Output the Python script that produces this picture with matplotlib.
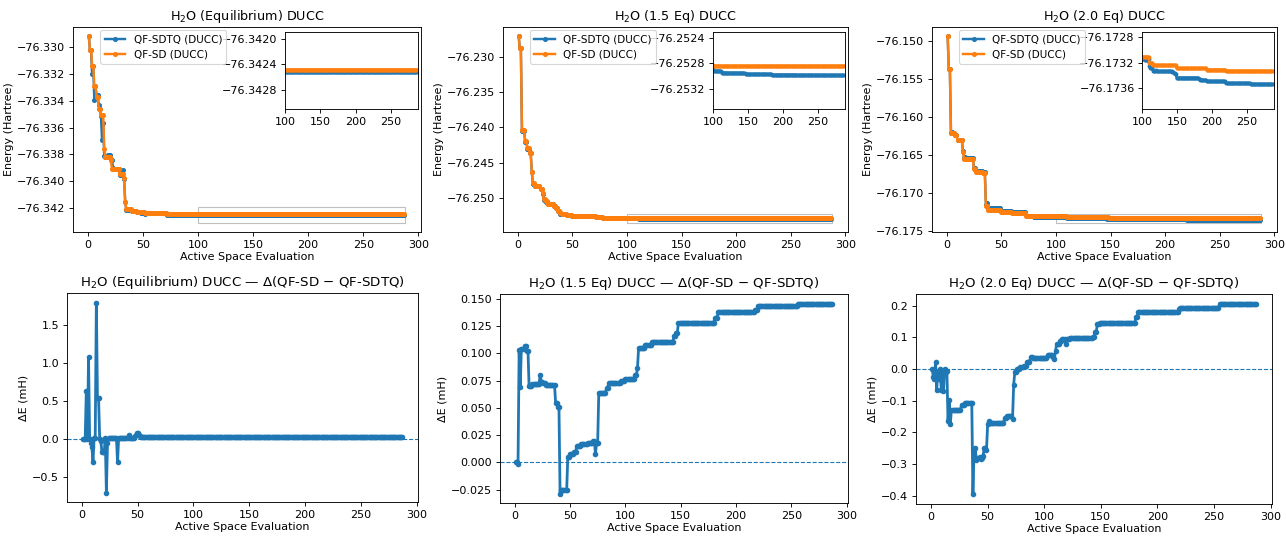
import numpy as np
import matplotlib
matplotlib.use('Agg')  # Use non-GUI backend
import matplotlib.pyplot as plt
from matplotlib.patches import Rectangle
from matplotlib.ticker import MultipleLocator

# Active space evaluation index
x = np.arange(1, 288)

# QF-SD (DUCC) energies, read as step levels: (start index, Hartree)
eq_sd_x = [1, 2, 4, 6, 8, 10, 12, 15, 16, 21, 22, 29, 33, 34, 35, 40, 45, 52, 72]
eq_sd_e = [-76.3292, -76.3302, -76.3314, -76.3329, -76.3337, -76.3346, -76.3351,
           -76.3376, -76.3382, -76.3384, -76.3391, -76.3395, -76.3398, -76.34152,
           -76.3421, -76.3422, -76.3423, -76.34238, -76.34248]

p15_sd_x = [1, 2, 4, 7, 9, 11, 13, 14, 16, 21, 23, 24, 26, 28, 33, 35, 37, 39, 41,
            45, 50, 60, 72, 78, 100]
p15_sd_e = [-76.2271, -76.2288, -76.2404, -76.2420, -76.2429, -76.2436, -76.2463,
            -76.2479, -76.2483, -76.2487, -76.2493, -76.2502, -76.2505, -76.2508,
            -76.2511, -76.2514, -76.2518, -76.2522, -76.2523, -76.2524, -76.25255,
            -76.2526, -76.2527, -76.25282, -76.25284]

p20_sd_x = [1, 2, 4, 8, 10, 15, 16, 25, 27, 33, 36, 38, 50, 60, 73, 76, 80, 110,
            115, 149, 192, 220]
p20_sd_e = [-76.1494, -76.1537, -76.1621, -76.1624, -76.1631, -76.1646, -76.1655,
            -76.1669, -76.1672, -76.1674, -76.1717, -76.1723, -76.1725, -76.1727,
            -76.1730, -76.17305, -76.17311, -76.1732, -76.17324, -76.17329,
            -76.17331, -76.17333]

# Delta E = QF-SD - QF-SDTQ in mH: (start index, value)
eq_d_x = [1, 4, 5, 6, 7, 8, 9, 10, 11, 13, 14, 16, 17, 18, 21, 22, 23, 24, 32, 33,
          42, 43, 48, 49, 51, 52, 53]
eq_d_v = [0.0, 0.64, 0.0, 1.08, 0.0, -0.05, -0.10, -0.30, 0.02, 1.80, 0.54, 0.0,
          -0.02, -0.17, 0.02, -0.70, -0.05, 0.02, -0.30, 0.02, 0.06, 0.02, 0.05,
          0.085, 0.06, 0.045, 0.03]

p15_d_x = [1, 3, 4, 5, 6, 9, 11, 13, 16, 23, 24, 26, 28, 37, 39, 41, 42, 48, 50, 54,
           56, 60, 66, 71, 73, 74, 76, 83, 85, 96, 100, 109, 111, 112, 118, 124, 144,
           146, 148, 181, 184, 217, 220, 256, 265]
p15_d_v = [0.0, -0.0015, 0.103, 0.069, 0.104, 0.107, 0.102, 0.0697, 0.072, 0.080,
           0.074, 0.073, 0.071, 0.054, 0.051, -0.0286, -0.025, 0.005, 0.008, 0.009,
           0.0145, 0.0166, 0.018, 0.0197, 0.0077, 0.018, 0.064, 0.068, 0.0728, 0.075,
           0.076, 0.080, 0.0866, 0.105, 0.108, 0.110, 0.116, 0.119, 0.1275, 0.1327,
           0.138, 0.140, 0.1434, 0.1456, 0.145]

p20_d_x = [1, 2, 3, 4, 5, 6, 7, 8, 9, 10, 11, 12, 13, 14, 15, 16, 17, 18, 27, 30, 37,
           38, 39, 40, 41, 43, 44, 45, 46, 47, 48, 49, 50, 51, 52, 65, 67, 72, 73, 74,
           76, 79, 82, 85, 88, 90, 103, 108, 109, 110, 111, 114, 116, 119, 120, 123,
           143, 145, 147, 149, 181, 183, 219, 220, 255, 258]
p20_d_v = [0.0, -0.024, -0.03, 0.021, -0.066, -0.008, -0.03, 0.0, -0.066, -0.003,
           -0.07, 0.0, -0.008, -0.005, -0.165, -0.097, -0.175, -0.128, -0.1125, -0.108,
           -0.396, -0.256, -0.248, -0.2875, -0.28, -0.279, -0.284, -0.28, -0.274,
           -0.248, -0.25, -0.256, -0.175, -0.165, -0.17, -0.154, -0.149, -0.159, -0.05,
           -0.0104, 0.0, 0.007, 0.01, 0.023, 0.0385, 0.035, 0.044, 0.038, 0.033, 0.056,
           0.08, 0.0875, 0.096, 0.08, 0.096, 0.098, 0.10, 0.117, 0.143, 0.146, 0.164,
           0.179, 0.19, 0.192, 0.207, 0.205]

titles = ["H$_2$O (Equilibrium) DUCC", "H$_2$O (1.5 Eq) DUCC", "H$_2$O (2.0 Eq) DUCC"]


def steps(bx, bv):
    idx = np.searchsorted(bx, x, side='right') - 1
    return np.asarray(bv, dtype=float)[idx]


systems = []
for sx, se, dx, dv in [(eq_sd_x, eq_sd_e, eq_d_x, eq_d_v),
                       (p15_sd_x, p15_sd_e, p15_d_x, p15_d_v),
                       (p20_sd_x, p20_sd_e, p20_d_x, p20_d_v)]:
    e_sd = steps(sx, se)
    d = steps(dx, dv)
    e_sdtq = e_sd - d / 1000.0
    systems.append((e_sdtq, e_sd, d))

W, H = 1286, 537
fig = plt.figure(figsize=(W / 80, H / 80), dpi=80)


def frame(x0, x1, ytop, ybot):
    return [x0 / W, (H - ybot) / H, (x1 - x0) / W, (ybot - ytop) / H]


top_boxes = [frame(73, 421, 27, 232), frame(503, 848, 27, 232), frame(932, 1277, 27, 232)]
bot_boxes = [frame(67, 418, 293, 502), frame(500, 848, 294, 503), frame(916, 1272, 294, 504)]

for i, (e_sdtq, e_sd, d) in enumerate(systems):
    # Energy panel
    ax = fig.add_axes(top_boxes[i])
    ax.plot(x, e_sdtq, 'o-', color='C0', lw=2.2, ms=3.5, label='QF-SDTQ (DUCC)')
    ax.plot(x, e_sd, 'o-', color='C1', lw=2.2, ms=3.5, label='QF-SD (DUCC)')
    ax.set_title(titles[i], fontsize=11.5)
    ax.set_xlabel('Active Space Evaluation', fontsize=10, labelpad=2)
    ax.set_ylabel('Energy (Hartree)', fontsize=10, labelpad=3)
    ax.ticklabel_format(useOffset=False, axis='y')
    ax.legend(loc='upper left', bbox_to_anchor=(0.07, 1.0), fontsize=9.3,
              borderaxespad=0.3)

    # Zoomed tail
    mask = x >= 100
    lo = min(e_sdtq[mask].min(), e_sd[mask].min())
    hi = max(e_sdtq[mask].max(), e_sd[mask].max())
    mid = (lo + hi) / 2
    y0, y1 = mid - 0.0006, mid + 0.0006
    axins = ax.inset_axes([0.61, 0.6, 0.38, 0.375])
    axins.plot(x, e_sdtq, 'o-', color='C0', lw=2.2, ms=2.5)
    axins.plot(x, e_sd, 'o-', color='C1', lw=2.2, ms=2.5)
    axins.set_xlim(100, 288)
    axins.set_ylim(y0, y1)
    axins.xaxis.set_major_locator(MultipleLocator(50))
    axins.yaxis.set_major_locator(MultipleLocator(0.0004))
    axins.ticklabel_format(useOffset=False, axis='y')
    axins.tick_params(labelsize=10)
    ax.add_patch(Rectangle((100, y0), 188, y1 - y0, fill=False,
                           edgecolor='gray', alpha=0.5, lw=1))

    # Difference panel
    bx = fig.add_axes(bot_boxes[i])
    bx.plot(x, d, 'o-', color='C0', lw=2.5, ms=4)
    bx.axhline(0, ls='--', lw=1, color='C0')
    bx.set_title(titles[i] + " \u2014 \u0394(QF-SD \u2212 QF-SDTQ)", fontsize=12)
    bx.set_xlabel('Active Space Evaluation', fontsize=10, labelpad=2)
    bx.set_ylabel('\u0394E (mH)', fontsize=10, labelpad=3)

fig.savefig('out.png', dpi=80)
plt.close(fig)
